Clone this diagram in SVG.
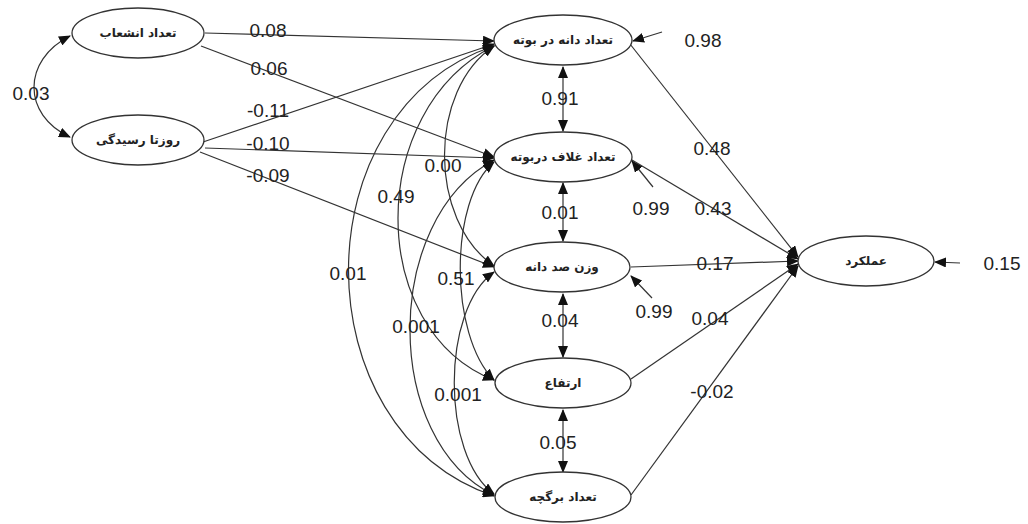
<svg xmlns="http://www.w3.org/2000/svg" width="1028" height="524" viewBox="0 0 1028 524">
<style>
.n ellipse{fill:#fff;stroke:#333;stroke-width:1.3}
.n text{font-family:"DejaVu Sans","Noto Sans",sans-serif;font-size:12px;font-weight:bold;fill:#222;text-anchor:middle}
.c path,.c line{fill:none;stroke:#333;stroke-width:1.2}
.l text{font-family:"Liberation Sans",Arial,sans-serif;font-size:19px;fill:#222;text-anchor:middle}
</style>
<defs>
<marker id="ah" viewBox="0 0 12 10" refX="11" refY="5" markerWidth="12" markerHeight="10" markerUnits="userSpaceOnUse" orient="auto-start-reverse">
<path d="M0,0 L12,5 L0,10 z" fill="#111"/>
</marker>
</defs>
<rect width="1028" height="524" fill="#fff"/>
<g class="c">
<!-- A<->B covariance -->
<path d="M70,36 C22,60 22,115 70,137" marker-start="url(#ah)" marker-end="url(#ah)"/>
<!-- exogenous paths -->
<line x1="205" y1="33" x2="494" y2="41" marker-end="url(#ah)"/>
<line x1="201" y1="46" x2="494" y2="157" marker-end="url(#ah)"/>
<line x1="203" y1="142" x2="494" y2="44" marker-end="url(#ah)"/>
<line x1="205" y1="148" x2="494" y2="158" marker-end="url(#ah)"/>
<line x1="200" y1="152" x2="494" y2="267" marker-end="url(#ah)"/>
<!-- covariance arcs among mediators -->
<path d="M494,46 C300,110 300,430 494,496" marker-start="url(#ah)" marker-end="url(#ah)"/>
<path d="M494,46 C366,110 366,330 494,380" marker-start="url(#ah)" marker-end="url(#ah)"/>
<path d="M494,46 C428,90 428,220 494,266" marker-start="url(#ah)" marker-end="url(#ah)"/>
<path d="M494,160 C382,220 382,440 494,495" marker-start="url(#ah)" marker-end="url(#ah)"/>
<path d="M494,162 C449,200 449,335 494,380" marker-start="url(#ah)" marker-end="url(#ah)"/>
<path d="M494,272 C441,310 441,455 494,494" marker-start="url(#ah)" marker-end="url(#ah)"/>
<!-- vertical double arrows -->
<line x1="563" y1="67" x2="563" y2="131" marker-start="url(#ah)" marker-end="url(#ah)"/>
<line x1="563" y1="183" x2="563" y2="241" marker-start="url(#ah)" marker-end="url(#ah)"/>
<line x1="563" y1="294" x2="563" y2="357" marker-start="url(#ah)" marker-end="url(#ah)"/>
<line x1="563" y1="410" x2="563" y2="472" marker-start="url(#ah)" marker-end="url(#ah)"/>
<!-- residuals -->
<line x1="662" y1="32" x2="633" y2="41" marker-end="url(#ah)"/>
<line x1="653" y1="187" x2="632" y2="161" marker-end="url(#ah)"/>
<line x1="652" y1="298" x2="631" y2="276" marker-end="url(#ah)"/>
<line x1="960" y1="263" x2="935" y2="262" marker-end="url(#ah)"/>
<!-- paths to yield -->
<line x1="630" y1="44" x2="798" y2="257" marker-end="url(#ah)"/>
<line x1="632" y1="160" x2="798" y2="259" marker-end="url(#ah)"/>
<line x1="631" y1="267" x2="798" y2="261" marker-end="url(#ah)"/>
<line x1="631" y1="379" x2="798" y2="264" marker-end="url(#ah)"/>
<line x1="631" y1="495" x2="798" y2="266" marker-end="url(#ah)"/>
</g>
<g id="n-enshab" class="n"><ellipse cx="138" cy="33" rx="66" ry="25"/><text x="138" y="37">تعداد انشعاب</text></g>
<g id="n-roozta" class="n"><ellipse cx="138" cy="140" rx="66" ry="25"/><text x="138" y="144">روزتا رسیدگی</text></g>
<g id="n-daneh" class="n"><ellipse cx="563" cy="40" rx="69" ry="25"/><text x="563" y="44">تعداد دانه در بوته</text></g>
<g id="n-ghalaf" class="n"><ellipse cx="563" cy="157" rx="69" ry="25"/><text x="563" y="161">تعداد غلاف دربوته</text></g>
<g id="n-vazn" class="n"><ellipse cx="562" cy="267" rx="68" ry="25"/><text x="562" y="271">وزن صد دانه</text></g>
<g id="n-ertefa" class="n"><ellipse cx="563" cy="383" rx="68" ry="25"/><text x="563" y="387">ارتفاع</text></g>
<g id="n-bargche" class="n"><ellipse cx="563" cy="497" rx="68" ry="25"/><text x="563" y="501">تعداد برگچه</text></g>
<g id="n-amalkard" class="n"><ellipse cx="866" cy="261" rx="68" ry="25"/><text x="866" y="265">عملکرد</text></g>
<g class="l">
<text x="268" y="37">0.08</text>
<text x="269" y="75">0.06</text>
<text x="268" y="117">-0.11</text>
<text x="268" y="150">-0.10</text>
<text x="268" y="182">-0.09</text>
<text x="31" y="100">0.03</text>
<text x="560" y="105">0.91</text>
<text x="443" y="172">0.00</text>
<text x="396" y="203">0.49</text>
<text x="348" y="280">0.01</text>
<text x="456" y="285">0.51</text>
<text x="416" y="333">0.001</text>
<text x="458" y="401">0.001</text>
<text x="560" y="219">0.01</text>
<text x="560" y="327">0.04</text>
<text x="558" y="449">0.05</text>
<text x="703" y="47">0.98</text>
<text x="712" y="155">0.48</text>
<text x="651" y="215">0.99</text>
<text x="713" y="215">0.43</text>
<text x="715" y="270">0.17</text>
<text x="1002" y="270">0.15</text>
<text x="654" y="318">0.99</text>
<text x="710" y="325">0.04</text>
<text x="712" y="398">-0.02</text>
</g>
</svg>
